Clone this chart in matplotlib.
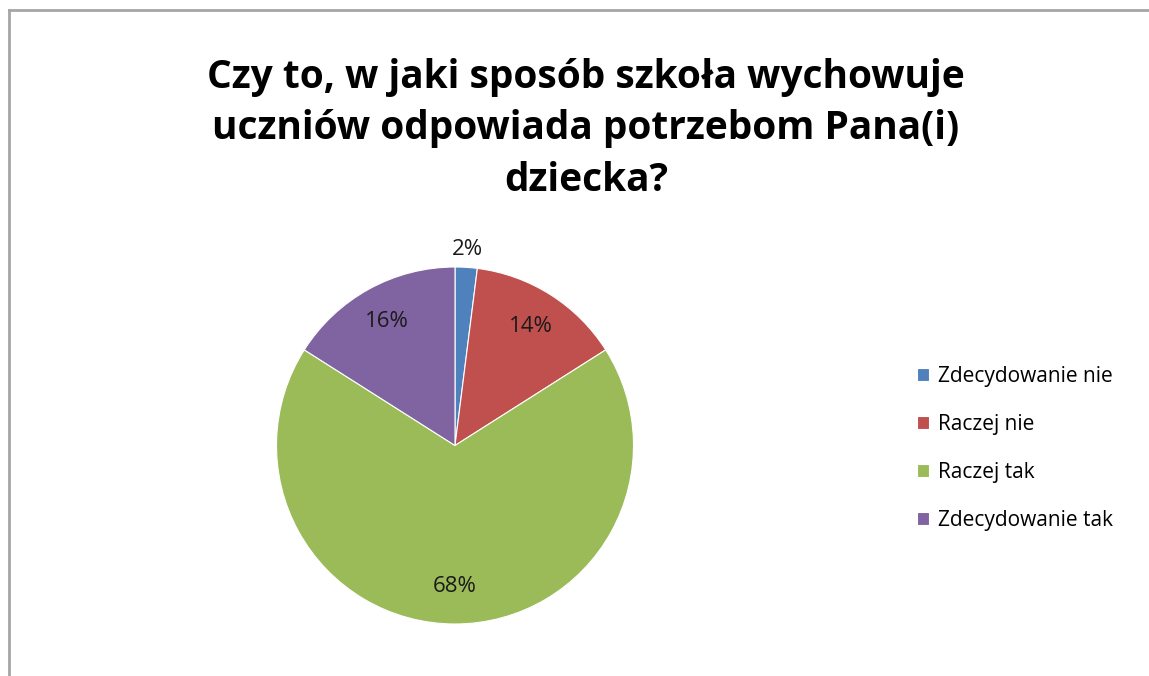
import matplotlib
matplotlib.use("Agg")
import matplotlib.pyplot as plt
from matplotlib.lines import Line2D

import numpy as np

title = "Czy to, w jaki sposób szkoła wychowuje\nuczniów odpowiada potrzebom Pana(i)\ndziecka?"
categories = ["Zdecydowanie nie", "Raczej nie", "Raczej tak", "Zdecydowanie tak"]
values = [2, 14, 68, 16]
colors = ["#4F81BD", "#C0504D", "#9BBB59", "#8064A2"]

plt.rcParams["font.family"] = ["Open Sans", "DejaVu Sans"]

W, H = 1149, 676
fig = plt.figure(figsize=(W / 100, H / 100), dpi=100)

# grey frame: only the left and top edges fall inside the picture
frame = dict(transform=fig.transFigure, color="#A6A6A6", linewidth=2)
fig.add_artist(Line2D([9 / W, 9 / W], [0, 1 - 10 / H], **frame))
fig.add_artist(Line2D([9 / W, 1], [1 - 10 / H, 1 - 10 / H], **frame))

fig.text(586 / W, 1 - 129 / H, title, ha="center", va="center",
         fontsize=28, fontweight="bold", linespacing=1.43)

# pie: centre (455, 445), radius ~178 px
cx, cy, r = 455, 445.5, 178.5
ax = fig.add_axes([(cx - r) / W, (H - cy - r) / H, 2 * r / W, 2 * r / H])
wedges, texts, autotexts = ax.pie(values, colors=colors, startangle=90,
                                  counterclock=False, autopct="%d%%",
                                  pctdistance=0.79, radius=1,
                                  wedgeprops=dict(edgecolor="white", linewidth=0.8),
                                  textprops=dict(fontsize=16, color="#1a1a1a"))
ax.set_xlim(-1, 1)
ax.set_ylim(-1, 1)
ax.set_aspect("equal")
ax.axis("off")

# the tiny slice gets its label outside the pie
w = wedges[0]
ang = np.deg2rad((w.theta1 + w.theta2) / 2)
autotexts[0].set_position((1.1 * np.cos(ang), 1.1 * np.sin(ang)))

fig.legend(wedges, categories, loc="upper left",
           bbox_to_anchor=(898 / W, 1 - 347 / H), frameon=False,
           fontsize=15, handlelength=0.6, handleheight=0.6,
           handletextpad=0.4, labelspacing=1.3)

fig.savefig("out.png", dpi=100)
